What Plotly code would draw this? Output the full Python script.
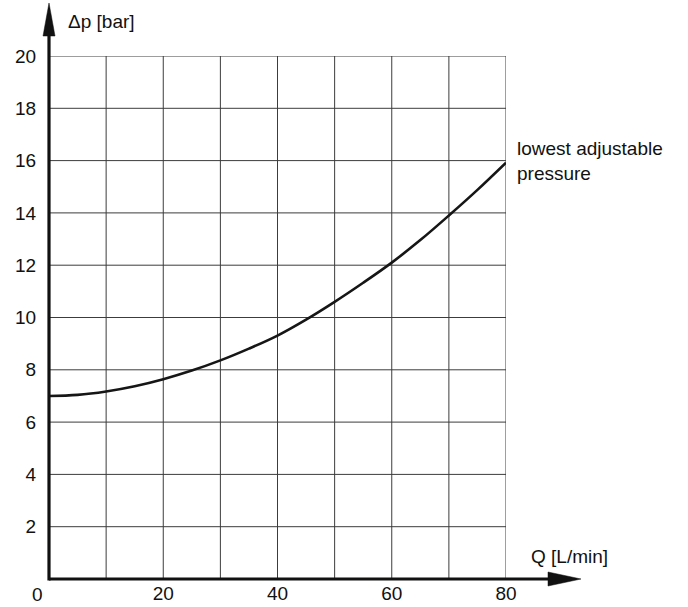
import plotly.graph_objects as go

# Data
flow_q = [0, 5, 10, 15, 20, 25, 30, 35, 40, 45, 50, 55, 60, 65, 70, 75, 80]
delta_p = [7.0, 7.04, 7.17, 7.37, 7.64, 7.97, 8.36, 8.81, 9.31, 9.92, 10.6, 11.33, 12.1, 12.96, 13.9, 14.88, 15.92]

x_ticks = [20, 40, 60, 80]
y_ticks = [2, 4, 6, 8, 10, 12, 14, 16, 18, 20]

FONT = "Liberation Sans, Arial, sans-serif"
FS = 19
W, H = 688, 607
ML, MR, MT, MB = 49, 182, 56, 28
PW, PH = W - ML - MR, H - MT - MB


def px_x(p):
    return (p - ML) / PW


def px_y(p):
    return (H - MB - p) / PH


fig = go.Figure()
fig.add_trace(go.Scatter(
    x=flow_q, y=delta_p, mode="lines",
    line=dict(color="#161616", width=2.6, shape="spline", smoothing=1.0),
    hoverinfo="skip", showlegend=False,
))

grid = "#3c3c3c"
fig.update_xaxes(
    range=[0, 80], showgrid=False, automargin=False,
    tickvals=x_ticks, ticktext=[str(v) for v in x_ticks],
    ticks="", ticklabelstandoff=1,
    zeroline=False, showline=False,
    tickfont=dict(family=FONT, size=FS, color="#111"),
)
fig.update_yaxes(
    range=[0, 20], showgrid=False, automargin=False,
    tickvals=y_ticks, ticktext=[str(v) for v in y_ticks],
    ticks="outside", ticklen=8, tickcolor="rgba(0,0,0,0)",
    zeroline=False, showline=False,
    tickfont=dict(family=FONT, size=FS, color="#111"),
)

shapes = []
for v in range(10, 81, 10):
    shapes.append(dict(type="line", xref="x", yref="y", x0=v, x1=v, y0=0, y1=20, layer="below",
                       line=dict(color=grid, width=1)))
for v in y_ticks:
    shapes.append(dict(type="line", xref="x", yref="y", x0=0, x1=80, y0=v, y1=v, layer="below",
                       line=dict(color=grid, width=1)))

# axis lines with arrows
axc = "#111"
shapes.append(dict(type="line", xref="paper", yref="paper",
                   x0=px_x(49), x1=px_x(552), y0=0, y1=0, line=dict(color=axc, width=3.2)))
shapes.append(dict(type="line", xref="paper", yref="paper",
                   x0=0, x1=0, y0=px_y(580.5), y1=px_y(34), line=dict(color=axc, width=3.2)))
shapes.append(dict(type="path", xref="paper", yref="paper",
                   path=f"M {px_x(548)} {px_y(572)} L {px_x(581)} {px_y(579)} L {px_x(548)} {px_y(586)} Z",
                   fillcolor=axc, line=dict(color=axc, width=0.5)))
shapes.append(dict(type="path", xref="paper", yref="paper",
                   path=f"M {px_x(43)} {px_y(36)} L {px_x(49)} {px_y(3)} L {px_x(55)} {px_y(36)} Z",
                   fillcolor=axc, line=dict(color=axc, width=0.5)))

annotations = [
    dict(text="Δp [bar]", xref="paper", yref="paper", x=px_x(66), y=px_y(22),
         xanchor="left", yanchor="middle", showarrow=False,
         font=dict(family=FONT, size=FS, color="#111")),
    dict(text="Q [L/min]", xref="paper", yref="paper", x=px_x(529), y=px_y(556),
         xanchor="left", yanchor="middle", showarrow=False,
         font=dict(family=FONT, size=FS, color="#111")),
    dict(text="lowest adjustable<br>pressure", xref="x", yref="y", x=80, y=16,
         xanchor="left", yanchor="middle", xshift=9, showarrow=False, align="left",
         font=dict(family=FONT, size=FS, color="#111")),
    dict(text="0", xref="paper", yref="paper", x=px_x(37), y=px_y(594),
         xanchor="center", yanchor="middle", showarrow=False,
         font=dict(family=FONT, size=FS, color="#111")),
]

fig.update_layout(
    width=W, height=H,
    margin=dict(l=ML, r=MR, t=MT, b=MB),
    paper_bgcolor="white", plot_bgcolor="white",
    shapes=shapes, annotations=annotations, showlegend=False,
)

fig.write_html("out.html", config={"displayModeBar": False},
               post_script="document.body.style.margin='0';document.body.style.overflow='hidden';")
